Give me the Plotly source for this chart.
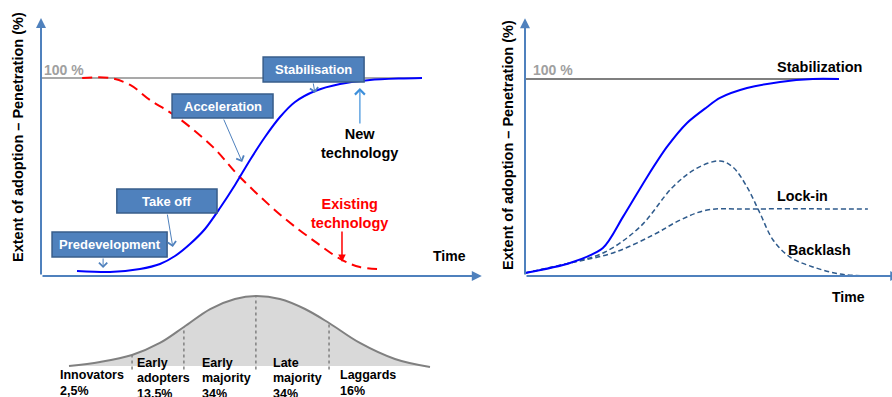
import plotly.graph_objects as go

# ---------------- data ----------------
# Left panel: technology substitution (time in %, adoption in %)
new_t = [9.45, 18.11, 25.98, 31.23, 35.17, 39.11, 43.04, 46.98, 50.92, 54.86, 58.79, 62.73,
         66.67, 71.92, 78.48, 86.35, 94.23, 100.0]
new_a = [2.53, 2.02, 3.54, 6.06, 10.10, 16.16, 23.74, 34.34, 45.96, 58.59, 70.20, 80.30,
         87.88, 93.43, 96.97, 98.99, 99.75, 100.0]
old_t = [10.8, 18.1, 23.4, 28.6, 35.7, 45.1, 52.2, 63.5, 72.4, 79.0, 83.7, 88.2]
old_a = [100.0, 100.0, 96.5, 88.9, 80.3, 65.2, 50.0, 29.8, 16.7, 8.1, 4.5, 3.5]

# Bottom: adopter categories bell curve
bell_t = [7.35, 15.5, 23.9, 31.2, 37.5, 44.4, 50.9, 56.4, 62.7, 69.3, 75.6, 83.7, 92.9, 102.1]
bell_h = [0.0, 5.7, 15.7, 32.9, 55.7, 81.4, 95.7, 100.0, 95.7, 81.4, 61.4, 32.9, 10.0, -1.4]
split_t = [23.9, 37.5, 56.4, 75.6]
split_h = [15.7, 55.7, 100.0, 61.4]
categories = [["Innovators", "2,5%"], ["Early", "adopters", "13,5%"], ["Early", "majority", "34%"],
              ["Late", "majority", "34%"], ["Laggards", "16%"]]

# Right panel: adoption outcomes
stab_t = [0.0, 14.3, 24.8, 31.2, 38.9, 45.2, 51.6, 58.0, 62.1, 70.7, 81.2, 91.7, 100.0]
stab_a = [1.5, 6.6, 14.2, 30.0, 50.3, 65.5, 77.7, 85.8, 90.4, 95.4, 98.5, 100.0, 100.0]
lock_t = [0.0, 14.3, 28.0, 40.8, 49.4, 58.0, 70.7, 109.2]
lock_a = [1.5, 6.6, 11.7, 20.8, 28.4, 33.5, 34.0, 34.0]
back_t = [0.0, 14.3, 25.5, 36.6, 47.1, 54.8, 62.1, 66.2, 70.7, 74.8, 79.0, 84.4, 91.7, 100.3, 109.2]
back_a = [1.5, 6.6, 12.2, 24.9, 45.2, 54.8, 58.4, 55.3, 45.2, 32.0, 18.3, 9.6, 4.6, 1.0, 0.0]

# ---------------- layout helpers ----------------
W, H = 892, 397
FONT = "Liberation Sans, Arial, sans-serif"
AX = "#4F81BD"


def xr(p0, p1):  # value 0 at pixel p0, value 100 at pixel p1
    s = (p1 - p0) / 100.0
    return [-p0 / s, (W - p0) / s]


def yr(p0, p1):  # value 0 at pixel row p0, value 100 at pixel row p1
    s = (p0 - p1) / 100.0
    return [(p0 - H) / s, p0 / s]


fig = go.Figure()

# bell curve
fig.add_trace(go.Scatter(x=bell_t, y=bell_h, xaxis="x", yaxis="y3", mode="lines",
                         line=dict(color="#808080", width=2, shape="spline"),
                         fill="tozeroy", fillcolor="#D9D9D9"))
for t, h in zip(split_t, split_h):
    fig.add_trace(go.Scatter(x=[t, t], y=[-5, h], xaxis="x", yaxis="y3", mode="lines",
                             line=dict(color="#808080", width=1.5, dash="dot")))

# left panel
fig.add_trace(go.Scatter(x=[0, 100], y=[100, 100], mode="lines",
                         line=dict(color="#8C8C8C", width=1.5)))
fig.add_trace(go.Scatter(x=old_t, y=old_a, mode="lines",
                         line=dict(color="#FF0000", width=2, dash="10px,6px", shape="spline")))
fig.add_trace(go.Scatter(x=new_t, y=new_a, mode="lines",
                         line=dict(color="#0000FF", width=2, shape="spline", smoothing=0.8)))

# right panel
fig.add_trace(go.Scatter(x=[0, 100], y=[100, 100], xaxis="x2", yaxis="y2", mode="lines",
                         line=dict(color="#7F7F7F", width=2)))
fig.add_trace(go.Scatter(x=lock_t, y=lock_a, xaxis="x2", yaxis="y2", mode="lines",
                         line=dict(color="#2F5B8C", width=1.5, dash="5px,3px", shape="spline")))
fig.add_trace(go.Scatter(x=back_t, y=back_a, xaxis="x2", yaxis="y2", mode="lines",
                         line=dict(color="#2F5B8C", width=1.5, dash="5px,3px", shape="spline")))
fig.add_trace(go.Scatter(x=stab_t, y=stab_a, xaxis="x2", yaxis="y2", mode="lines",
                         line=dict(color="#0000FF", width=2, shape="spline", smoothing=0.8)))

ann = []
shapes = []


def arrow(x, y, ax, ay, xa="x", ya="y", color=AX, width=2, head=2, size=1.0):
    ann.append(dict(x=x, y=y, ax=ax, ay=ay, xref=xa, yref=ya, axref=xa, ayref=ya,
                    text="", showarrow=True, arrowhead=head, arrowsize=size,
                    arrowwidth=width, arrowcolor=color, standoff=0, startstandoff=0))


def label(x, y, text, xa="x", ya="y", size=14, color="black", xanchor="center", yanchor="middle"):
    ann.append(dict(x=x, y=y, xref=xa, yref=ya, text="<b>" + text + "</b>", showarrow=False,
                    xanchor=xanchor, yanchor=yanchor,
                    font=dict(family=FONT, size=size, color=color)))


# axes with arrows
arrow(115.7, 0, 0, 0)
arrow(0, 130.3, 0, 0)
arrow(119.5, 0, 0, 0, "x2", "y2")
arrow(0, 130.8, 0, 0, "x2", "y2")

# phase boxes
boxes = [("Stabilisation", 58.3, 84.8, 98.0, 110.6),
         ("Acceleration", 34.4, 60.9, 79.8, 91.9),
         ("Take off", 19.9, 46.2, 31.8, 43.9),
         ("Predevelopment", 2.9, 33.1, 9.6, 22.2)]
for name, x0, x1, y0, y1 in boxes:
    shapes.append(dict(type="rect", xref="x", yref="y", x0=x0, x1=x1, y0=y0, y1=y1,
                       fillcolor="#4F81BD", line=dict(color="#385D8A", width=1.5), layer="above"))
    label((x0 + x1) / 2, (y0 + y1) / 2, name, size=13, color="white")

# box pointers
arrow(16.3, 4.0, 16.3, 9.6, width=1, head=4, size=1.6)
arrow(34.6, 14.6, 33.1, 31.8, width=1, head=4, size=1.6)
arrow(52.8, 57.6, 47.8, 79.8, width=1, head=4, size=1.6)
arrow(71.9, 92.4, 71.4, 98.0, width=1, head=4, size=1.6)
arrow(83.7, 94.9, 83.7, 76.3, color="#3D8FDB", width=1.2, head=4, size=1.6)
arrow(79.0, 7.1, 79.0, 23.2, color="#FF0000", width=1.5, head=2, size=1.0)

label(83.7, 66.7, "New<br>technology", size=14.5)
label(81.1, 31.8, "Existing<br>technology", size=14.5, color="#FF0000")
label(107.3, 10.1, "Time", size=14)
label(0.3, 104.0, "100 %", size=14, color="#A0A0A0", xanchor="left")

# right labels
label(93.9, 106.1, "Stabilization", "x2", "y2", size=14.5)
label(88.5, 40.6, "Lock-in", "x2", "y2", size=14.3)
label(93.9, 13.2, "Backlash", "x2", "y2", size=14.3)
label(102.9, -10.7, "Time", "x2", "y2", size=14)
label(1.9, 104.6, "100 %", "x2", "y2", size=14, color="#A0A0A0", xanchor="left")

# y titles
for px, py in [(18, 137), (508, 145)]:
    ann.append(dict(x=px / W, y=1 - py / H, xref="paper", yref="paper", showarrow=False,
                    xanchor="center", yanchor="middle",
                    textangle=-90, text="<b>Extent of adoption – Penetration (%)</b>",
                    font=dict(family=FONT, size=14.5, color="black")))

# bottom category labels, one annotation per line
cat_x = [4.4, 24.6, 41.7, 60.3, 77.95]
three_rows = [4.3, -17.1, -39.3]
two_rows = [-12.9, -35.7]
for lines, x in zip(categories, cat_x):
    rows = three_rows if len(lines) == 3 else two_rows
    for txt, y in zip(lines, rows):
        label(x, y, txt, "x", "y3", size=12.5, xanchor="left")

hidden = dict(visible=False, fixedrange=True)
fig.update_layout(
    width=W, height=H, margin=dict(l=0, r=0, t=0, b=0),
    paper_bgcolor="white", plot_bgcolor="rgba(0,0,0,0)", showlegend=False,
    xaxis=dict(range=xr(41, 422), domain=[0, 1], **hidden),
    yaxis=dict(range=yr(276, 78), domain=[0, 1], **hidden),
    xaxis2=dict(range=xr(525, 839), domain=[0, 1], anchor="y2", **hidden),
    yaxis2=dict(range=yr(276, 79), domain=[0, 1], anchor="x2", **hidden),
    yaxis3=dict(range=yr(366, 296), domain=[0, 1], anchor="x", **hidden),
    annotations=ann, shapes=shapes,
)

fig.write_html("out.html", config={"displayModeBar": False},
               post_script="document.body.style.margin='0';")
